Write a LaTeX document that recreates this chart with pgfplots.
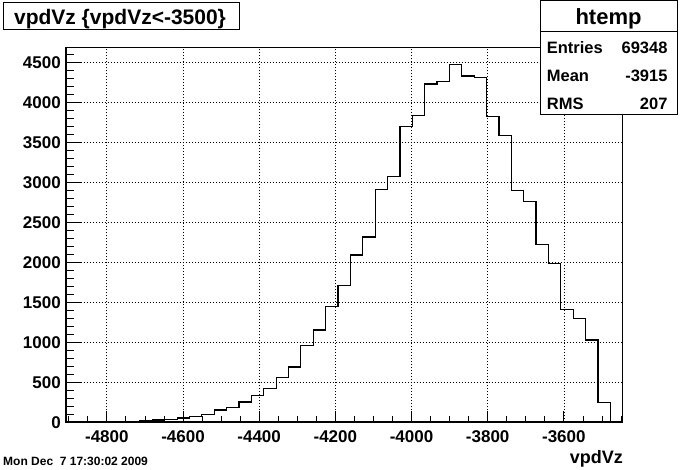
\documentclass[border=0pt]{standalone}
\usepackage{pgfplots}
\pgfplotsset{compat=1.18}
\usepackage{fontspec}
\setmainfont{Liberation Sans}
\newcommand\ft[1]{\fontsize{#1}{#1}\selectfont\bfseries}
\begin{document}
\begin{tikzpicture}
\useasboundingbox (0,0) rectangle (686pt,470pt);
\fill[white] (0,0) rectangle (686pt,470pt);
\begin{axis}[
  name=main,
  at={(65.7pt,47.7pt)}, anchor=south west,
  scale only axis, width=557pt, height=375.3pt,
  xmin=-4908, xmax=-3445.5, ymin=0, ymax=4691,
  xtick={-4800,-4600,-4400,-4200,-4000,-3800,-3600},
  xticklabels={-4800,-4600,-4400,-4200,-4000,-3800,-3600},
  ytick={0,500,1000,1500,2000,2500,3000,3500,4000,4500},
  yticklabels={0,500,1000,1500,2000,2500,3000,3500,4000,4500},
  minor xtick={-4900,-4850,...,-3450},
  minor ytick={0,100,...,4600},
  tick align=inside, tick pos=left,
  major tick length=11.3pt, minor tick length=6pt,
  tick style={black, line width=0.8pt},
  grid=major,
  major grid style={black, line width=0.7pt, dash pattern=on 0.8pt off 2.2pt},
  axis line style={black, line width=0.8pt},
  xticklabel style={font=\ft{17}, anchor=north, inner sep=0pt, yshift=-7.7pt},
  yticklabel style={font=\ft{17}, anchor=east, inner sep=0pt, xshift=-4.7pt},
  clip=false,
]
\addplot[const plot mark left, black, line width=1.2pt] table {
x y
-4908 0
-4875.5 0
-4843 0
-4810.5 2
-4778 5
-4745.5 8
-4713 18
-4680.5 28
-4648 37
-4615.5 54
-4583 75
-4550.5 100
-4518 154
-4485.5 188
-4453 254
-4420.5 338
-4388 425
-4355.5 555
-4323 690
-4290.5 962
-4258 1154
-4225.5 1450
-4193 1712
-4160.5 2091
-4128 2315
-4095.5 2912
-4063 3075
-4030.5 3700
-3998 3837
-3965.5 4229
-3933 4262
-3900.5 4475
-3868 4329
-3835.5 4314
-3803 3825
-3770.5 3587
-3738 2895
-3705.5 2762
-3673 2227
-3640.5 1987
-3608 1412
-3575.5 1300
-3543 1029
-3510.5 250
-3478 0
-3445.5 0
};
\end{axis}
\begin{axis}[
  at={(65.7pt,47.7pt)}, anchor=south west,
  scale only axis, width=557pt, height=375.3pt,
  xmin=-4908, xmax=-3445.5, ymin=0, ymax=4691,
  xtick=\empty,
  ytick={0,500,1000,1500,2000,2500,3000,3500,4000,4500},
  yticklabels={},
  minor ytick={0,100,...,4600},
  tick align=inside, tick pos=left,
  major tick length=16.7pt, minor tick length=8.3pt,
  tick style={black, line width=0.8pt},
  axis line style={draw=none},
]
\end{axis}
\draw[black, line width=1.8pt] (main.north west) -- (main.south west) -- (main.south east);
% title box
\draw[black, line width=0.9pt, fill=white] (3pt,441pt) rectangle (239pt,467.3pt);
\node[anchor=base, inner sep=0pt] at (120pt,445pt) {\ft{21}vpdVz \{vpdVz<-3500\}};
% stats box
\draw[black, line width=0.9pt, fill=white] (540pt,355.7pt) rectangle (677pt,469.5pt);
\draw[black, line width=0.9pt] (540pt,438.3pt) -- (677pt,438.3pt);
\node[anchor=base, inner sep=0pt] at (608.5pt,445pt) {\ft{22}htemp};
\node[anchor=base west, inner sep=0pt] at (546.7pt,416.7pt) {\ft{16.5}Entries};
\node[anchor=base east, inner sep=0pt] at (667.7pt,416.7pt) {\ft{16.5}69348};
\node[anchor=base west, inner sep=0pt] at (546.7pt,388.3pt) {\ft{16.5}Mean};
\node[anchor=base east, inner sep=0pt] at (667.7pt,388.3pt) {\ft{16.5}-3915};
\node[anchor=base west, inner sep=0pt] at (546.7pt,360.7pt) {\ft{16.5}RMS};
\node[anchor=base east, inner sep=0pt] at (667.7pt,360.7pt) {\ft{16.5}207};
% x label
\node[anchor=base east, inner sep=0pt] at (623pt,6.7pt) {\ft{18}vpdVz};
% date
\node[anchor=base west, inner sep=0pt] at (3pt,4pt) {\ft{12}Mon Dec\ \ 7 17:30:02 2009};
\end{tikzpicture}
\end{document}
